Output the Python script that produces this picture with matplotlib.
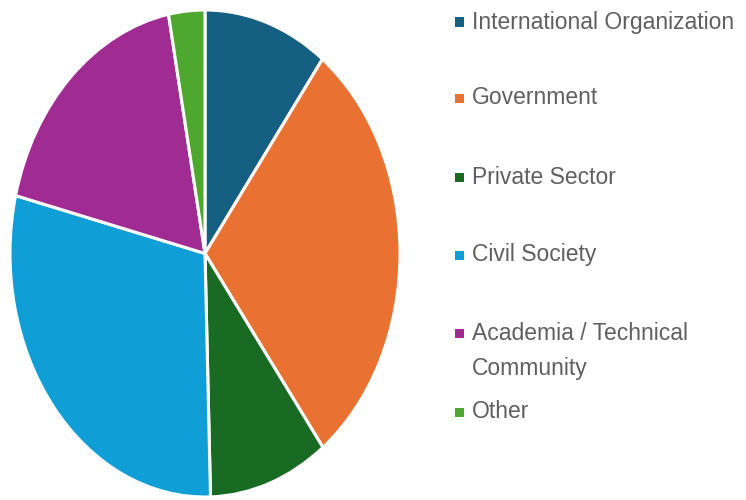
import matplotlib
matplotlib.use("Agg")
import matplotlib.pyplot as plt
from matplotlib.patches import Rectangle

labels = ["International Organization", "Government", "Private Sector",
          "Civil Society", "Academia / Technical\nCommunity", "Other"]
values = [10.3, 29.4, 9.9, 29.3, 18.2, 3.0]
colors = ["#156082", "#E97132", "#196B24", "#0F9ED5", "#A02B93", "#4EA72E"]

W, H = 746, 500
fig = plt.figure(figsize=(W / 100, H / 100), dpi=100)

# pie area in pixels (slightly stretched vertically as in the reference)
left, top, right, bottom = 10, 10, 400, 497
ax = fig.add_axes([left / W, 1 - bottom / H, (right - left) / W, (bottom - top) / H])
ax.pie(values, colors=colors, startangle=90, counterclock=False,
       wedgeprops=dict(edgecolor="white", linewidth=2.2))
ax.set_aspect("auto")
ax.set_xlim(-1, 1)
ax.set_ylim(-1, 1)
ax.axis("off")

# legend (manual, matching reference spacing)
row_y = [22, 98, 177, 255, 333, 412]
line_gap = 35
text_x = 472
sq_x = 455
sq = 9
for lab, col, y in zip(labels, colors, row_y):
    fig.add_artist(Rectangle((sq_x / W, 1 - (y + sq / 2) / H), sq / W, sq / H,
                             transform=fig.transFigure, facecolor=col,
                             edgecolor="none"))
    for i, line in enumerate(lab.split("\n")):
        fig.text(text_x / W, 1 - (y + i * line_gap) / H, line,
                 fontsize=16.5, color="#5f5f5f", va="center", ha="left",
                 family="Liberation Sans")

fig.savefig("out.png", dpi=100, facecolor="white")
